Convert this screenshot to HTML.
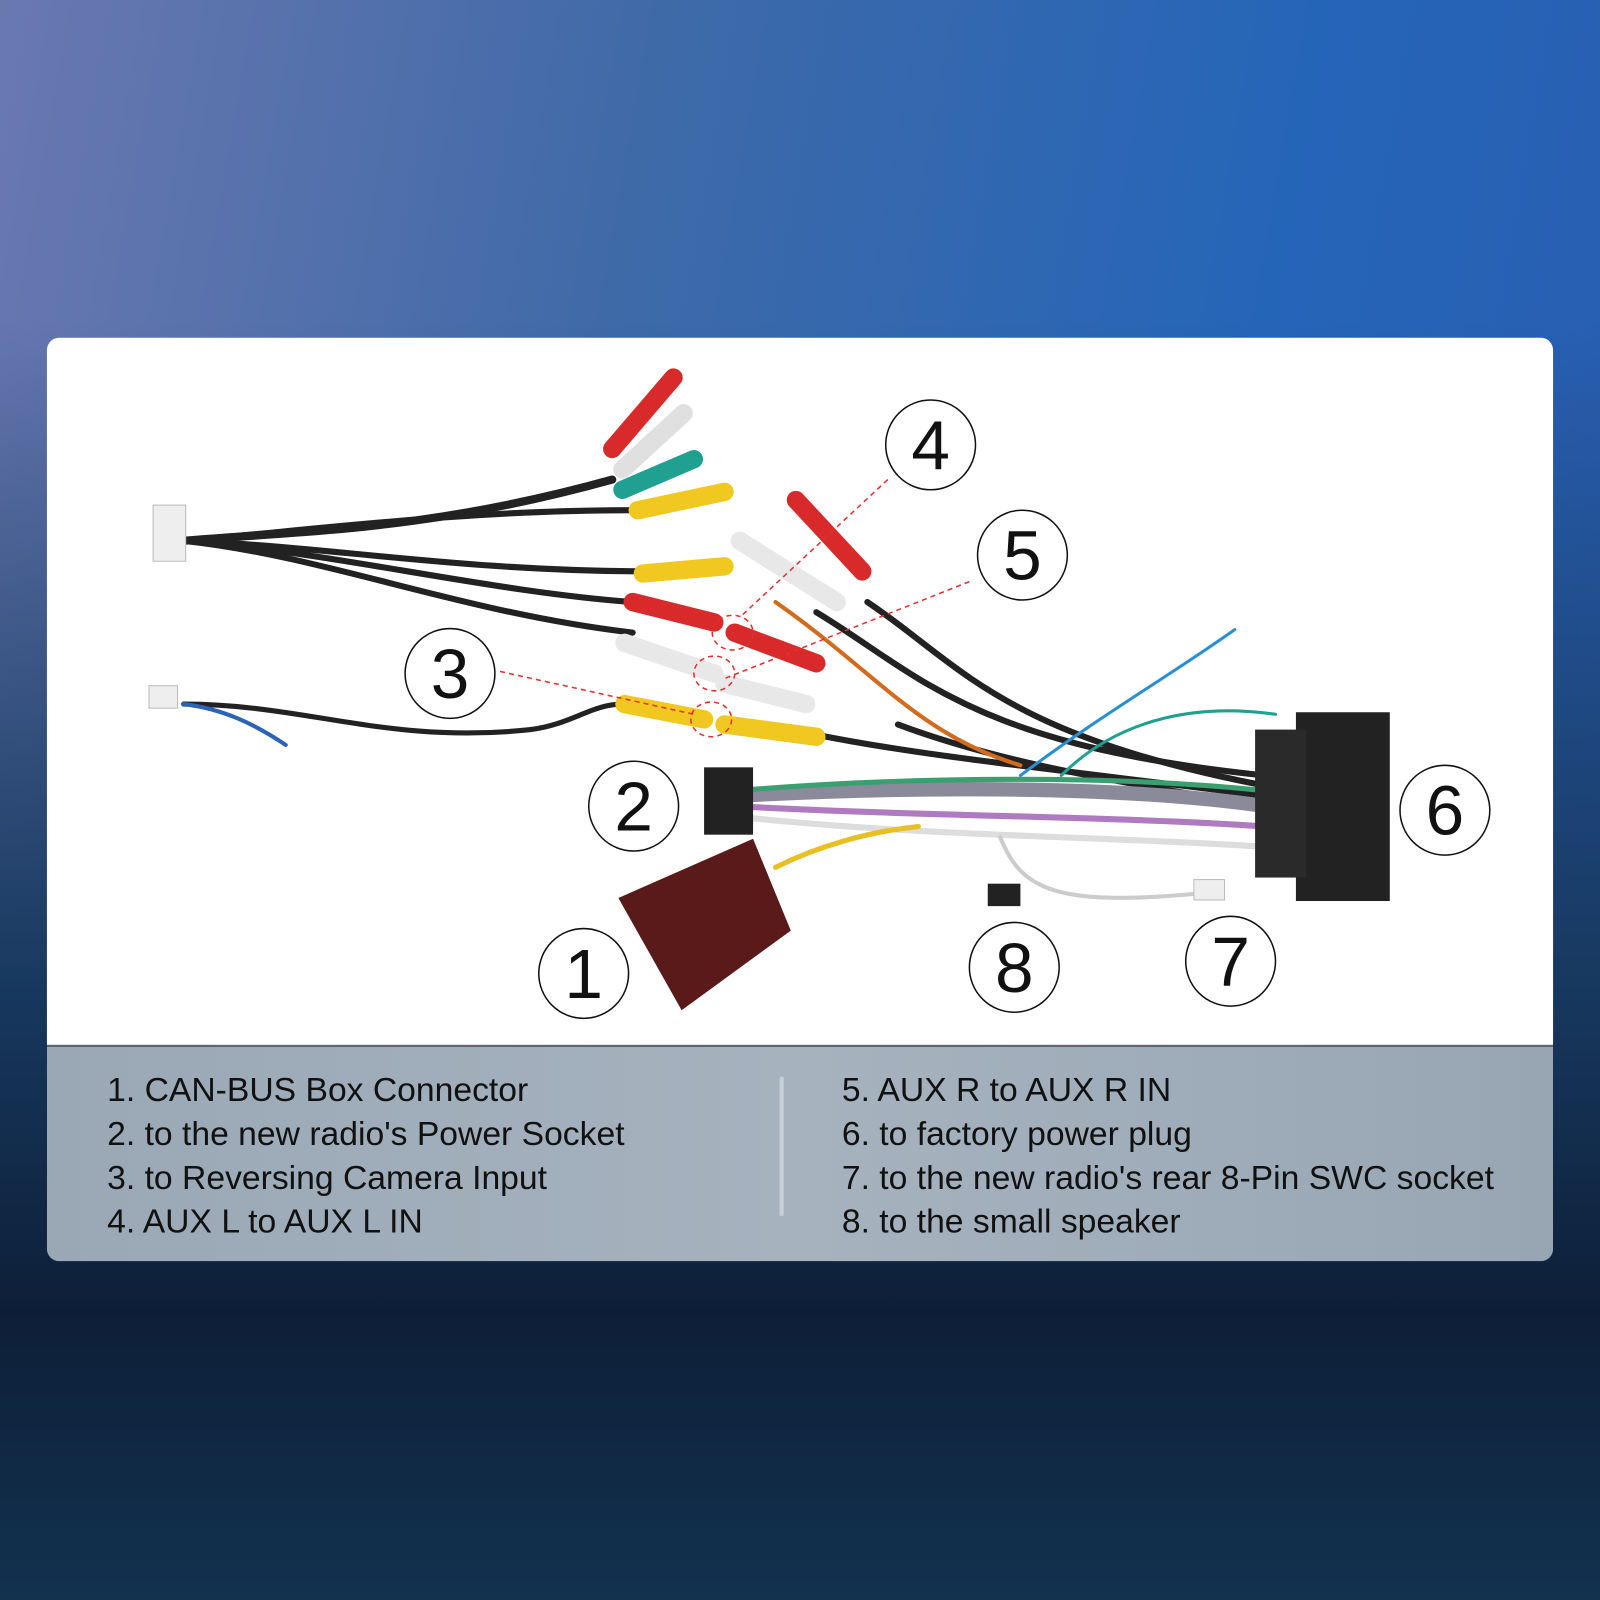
<!DOCTYPE html>
<html><head><meta charset="utf-8"><style>
html,body{margin:0;padding:0;width:1600px;height:1600px;overflow:hidden}
#w{position:absolute;left:0;top:0;width:1568px;height:1568px;transform:scale(1.020408);transform-origin:0 0;
background:linear-gradient(180deg,rgba(0,0,0,0) 0%,rgba(0,0,0,0) 20%,#17385e 62%,#0d1f38 82%,#12324f 100%),linear-gradient(100deg,#6a78b0 0%,#3f6aa8 35%,#2565b8 70%,#2a5cb0 100%);}
#panel{position:absolute;left:46px;top:331px;width:1476px;height:693px;background:#fff;border-radius:12px 12px 0 0;}
#cap{position:absolute;left:46px;top:1024px;width:1476px;height:212px;background:linear-gradient(90deg,#9aa8b6,#a6b2be 50%,#98a6b4);border-radius:0 0 12px 12px;border-top:2px solid #666;box-sizing:border-box}
.t{position:absolute;font-family:"Liberation Sans",sans-serif;font-size:33px;color:#111;line-height:43px;white-space:nowrap}
#div{position:absolute;left:764px;top:1055px;width:4px;height:137px;background:#c8d0d8;border-radius:2px}
svg{position:absolute;left:0;top:0}
</style></head><body><div id="w">
<div id="panel"></div>
<svg width="1568" height="1568" viewBox="0 0 1568 1568">
<g fill="none" stroke-linecap="round">
<path d="M180 530 C300 520 420 520 600 470" stroke="#222" stroke-width="8"/>
<path d="M180 530 C320 535 450 560 640 560" stroke="#222" stroke-width="6"/>
<path d="M180 530 C320 545 450 600 620 620" stroke="#222" stroke-width="6"/>
<path d="M180 530 C300 520 450 500 620 500" stroke="#222" stroke-width="6"/>
<path d="M180 530 C320 540 480 580 620 590" stroke="#222" stroke-width="6"/>
<path d="M180 690 C300 690 380 730 520 715 C560 710 580 690 610 690" stroke="#222" stroke-width="5"/>
<path d="M180 690 C220 695 250 710 280 730" stroke="#2a63b8" stroke-width="4"/>
<path d="M800 600 C900 660 950 730 1240 760" stroke="#222" stroke-width="6"/>
<path d="M850 590 C940 650 980 720 1240 770" stroke="#222" stroke-width="6"/>
<path d="M800 720 C900 740 1000 750 1240 780" stroke="#222" stroke-width="6"/>
<path d="M880 710 C960 740 1050 760 1240 790" stroke="#222" stroke-width="6"/>
<path d="M760 590 C860 660 900 720 1000 750" stroke="#d06b20" stroke-width="4"/>
<path d="M720 780 C900 770 1100 770 1240 790" stroke="#8a8a9a" stroke-width="14"/>
<path d="M720 790 C900 800 1100 800 1240 810" stroke="#b07ac0" stroke-width="6"/>
<path d="M720 775 C900 760 1100 760 1240 775" stroke="#3aa070" stroke-width="5"/>
<path d="M720 800 C900 820 1100 820 1240 830" stroke="#ddd" stroke-width="6"/>
<path d="M1000 760 C1080 700 1150 660 1210 617" stroke="#2a8fd0" stroke-width="3"/>
<path d="M1040 760 C1100 700 1180 690 1250 700" stroke="#20a090" stroke-width="3"/>
<path d="M980 820 C1000 870 1030 890 1180 875" stroke="#ccc" stroke-width="4"/>
<path d="M760 850 C800 830 850 815 900 810" stroke="#e8c020" stroke-width="5"/>
</g>
<rect x="150" y="495" width="32" height="55" fill="#eee" stroke="#bbb"/>
<rect x="146" y="672" width="28" height="22" fill="#eee" stroke="#bbb"/>
<rect x="690" y="752" width="48" height="66" fill="#222"/>
<rect x="1270" y="698" width="92" height="185" fill="#222"/>
<rect x="1230" y="715" width="50" height="145" fill="#2a2a2a"/>
<rect x="1170" y="862" width="30" height="20" fill="#eee" stroke="#bbb"/>
<rect x="968" y="866" width="32" height="22" fill="#222"/>
<polygon points="606,880 738,822 775,912 668,990" fill="#5a1a1a"/>
<g stroke-width="18" stroke-linecap="round">
<line x1="600" y1="440" x2="660" y2="370" stroke="#d82a2a"/>
<line x1="610" y1="460" x2="670" y2="405" stroke="#e0e0e0"/>
<line x1="610" y1="480" x2="680" y2="450" stroke="#20a090"/>
<line x1="625" y1="500" x2="710" y2="482" stroke="#f0c820"/>
<line x1="630" y1="562" x2="710" y2="555" stroke="#f0c820"/>
<line x1="620" y1="590" x2="700" y2="610" stroke="#d82a2a"/>
<line x1="720" y1="620" x2="800" y2="650" stroke="#d82a2a"/>
<line x1="612" y1="630" x2="700" y2="660" stroke="#e8e8e8"/>
<line x1="710" y1="670" x2="790" y2="690" stroke="#e8e8e8"/>
<line x1="612" y1="690" x2="690" y2="705" stroke="#f0c820"/>
<line x1="710" y1="710" x2="800" y2="722" stroke="#f0c820"/>
<line x1="780" y1="490" x2="845" y2="560" stroke="#d82a2a"/>
<line x1="725" y1="530" x2="820" y2="590" stroke="#e8e8e8"/>
</g>
<g stroke="#e03030" stroke-width="1.5" stroke-dasharray="5,4" fill="none">
<line x1="870" y1="470" x2="725" y2="605"/>
<line x1="950" y1="570" x2="710" y2="665"/>
<line x1="490" y1="658" x2="680" y2="700"/>
<ellipse cx="718" cy="620" rx="20" ry="17"/>
<ellipse cx="700" cy="660" rx="20" ry="17"/>
<ellipse cx="697" cy="705" rx="20" ry="17"/>
</g>
<g fill="#fff" stroke="#111" stroke-width="1.5">
<circle cx="912" cy="436" r="44"/><circle cx="1002" cy="544" r="44"/><circle cx="441" cy="660" r="44"/>
<circle cx="621" cy="790" r="44"/><circle cx="1416" cy="794" r="44"/><circle cx="572" cy="954" r="44"/>
<circle cx="994" cy="948" r="44"/><circle cx="1206" cy="942" r="44"/>
</g>
<g fill="#111" font-family="Liberation Sans,sans-serif" font-size="68" text-anchor="middle">
<text x="912" y="460">4</text><text x="1002" y="568">5</text><text x="441" y="684">3</text>
<text x="621" y="814">2</text><text x="1416" y="818">6</text><text x="572" y="978">1</text>
<text x="994" y="972">8</text><text x="1206" y="966">7</text>
</g>
</svg>
<div id="cap"></div>
<div id="div"></div>
<div class="t" style="left:105px;top:1046px">1. CAN-BUS Box Connector<br>2. to the new radio's Power Socket<br>3. to Reversing Camera Input<br>4. AUX L to AUX L IN</div>
<div class="t" style="left:825px;top:1046px">5. AUX R to AUX R IN<br>6. to factory power plug<br>7. to the new radio's rear 8-Pin SWC socket<br>8. to the small speaker</div>
</div></body></html>
